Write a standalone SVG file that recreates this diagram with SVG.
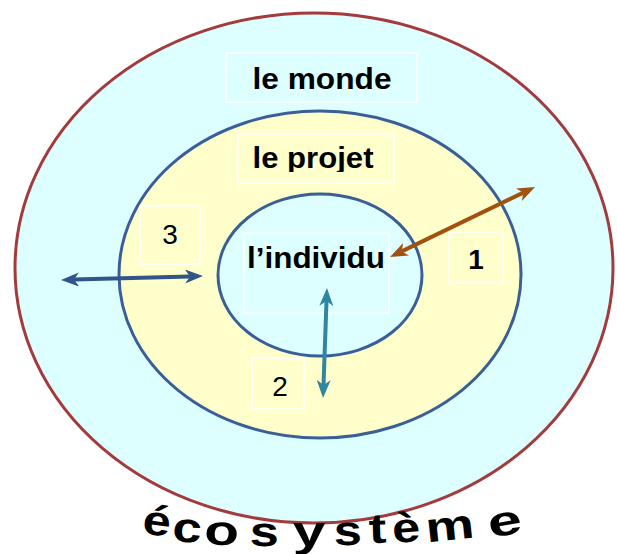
<svg xmlns="http://www.w3.org/2000/svg" width="617" height="554" viewBox="0 0 617 554">
  <style>
    .lbl { font-family: "Liberation Sans", Arial, sans-serif; font-weight: bold; font-size: 29px; fill: #000; text-anchor: middle; }
    .num { font-family: "Liberation Sans", Arial, sans-serif; font-size: 28px; fill: #000; text-anchor: middle; }
    .box { fill: none; stroke: #ffffff; stroke-width: 1.5; }
    .eco { font-family: "Liberation Sans", Arial, sans-serif; font-weight: bold; font-size: 42px; fill: #000; text-anchor: middle; }
    .conn { fill: none; stroke-width: 4; }
  </style>
  <defs>
    <marker id="hBrown" markerUnits="userSpaceOnUse" markerWidth="18" markerHeight="14" refX="5" refY="7" orient="auto-start-reverse">
      <path d="M0,0 L18,7 L0,14 L5,7 z" fill="#A0520E"/>
    </marker>
    <marker id="hBlue" markerUnits="userSpaceOnUse" markerWidth="18" markerHeight="14" refX="5" refY="7" orient="auto-start-reverse">
      <path d="M0,0 L18,7 L0,14 L5,7 z" fill="#2F5687"/>
    </marker>
    <marker id="hTeal" markerUnits="userSpaceOnUse" markerWidth="18" markerHeight="14" refX="5" refY="7" orient="auto-start-reverse">
      <path d="M0,0 L18,7 L0,14 L5,7 z" fill="#31859F"/>
    </marker>
    <clipPath id="clipProjet">
      <rect x="230" y="130" width="170" height="42"/>
    </clipPath>
  </defs>

  <rect x="0" y="0" width="617" height="554" fill="#ffffff"/>

  <g id="monde">
    <ellipse cx="314" cy="268" rx="299" ry="255" fill="#DDFFFF" stroke="#A33A3C" stroke-width="3"/>
    <rect class="box" x="226" y="53" width="191" height="49"/>
    <text class="lbl" x="322" y="89" textLength="139" lengthAdjust="spacingAndGlyphs">le monde</text>
  </g>

  <g id="projet">
    <ellipse cx="320" cy="274.5" rx="201" ry="163.5" fill="#FFFFCC" stroke="#3A5F98" stroke-width="3"/>
    <rect class="box" x="238" y="134" width="156" height="49"/>
    <text class="lbl" x="313" y="168" textLength="121" lengthAdjust="spacingAndGlyphs" clip-path="url(#clipProjet)">le projet</text>
  </g>

  <g id="individu">
    <ellipse cx="320" cy="275" rx="102" ry="81" fill="#DDFFFF" stroke="#3A5F98" stroke-width="3"/>
    <rect class="box" x="244" y="233" width="145" height="80"/>
    <text class="lbl" x="316" y="268" textLength="138" lengthAdjust="spacingAndGlyphs">l’individu</text>
  </g>

  <g id="n1">
    <rect class="box" x="449" y="232" width="54" height="51"/>
    <text class="num" x="476" y="269" font-weight="bold">1</text>
  </g>

  <g id="n3">
    <rect class="box" x="140" y="206" width="60" height="58"/>
    <text class="num" x="170" y="244">3</text>
  </g>

  <g id="n2">
    <rect class="box" x="252" y="358" width="52" height="51"/>
    <text class="num" x="280" y="396">2</text>
  </g>

  <g id="connectors">
    <line class="conn" x1="401.7" y1="251.4" x2="523.3" y2="192.6" stroke="#A0520E" marker-start="url(#hBrown)" marker-end="url(#hBrown)"/>
    <line class="conn" x1="74" y1="279.6" x2="190" y2="276.4" stroke="#2F5687" marker-start="url(#hBlue)" marker-end="url(#hBlue)"/>
    <line class="conn" x1="326.5" y1="301" x2="323.5" y2="385" stroke="#31859F" marker-start="url(#hTeal)" marker-end="url(#hTeal)"/>
  </g>

  <g id="ecosysteme">
    <text class="eco" transform="translate(155,535) rotate(8) scale(1.2,1)">é</text>
    <text class="eco" transform="translate(186,542) rotate(5) scale(1.25,1)">c</text>
    <text class="eco" transform="translate(221,545) rotate(3) scale(1.35,1)">o</text>
    <text class="eco" transform="translate(264,546) rotate(1) scale(1.25,1)">s</text>
    <text class="eco" transform="translate(309,546) rotate(0) scale(1.4,1)">y</text>
    <text class="eco" transform="translate(348,545) rotate(-1) scale(1.2,1)">s</text>
    <text class="eco" transform="translate(378,543) rotate(-2) scale(1.25,1)">t</text>
    <text class="eco" transform="translate(407,542) rotate(-4) scale(1.2,1)">è</text>
    <text class="eco" transform="translate(451,540) rotate(-6) scale(1.3,1)">m</text>
    <text class="eco" transform="translate(507,535) rotate(-10) scale(1.45,1)">e</text>
  </g>
</svg>
